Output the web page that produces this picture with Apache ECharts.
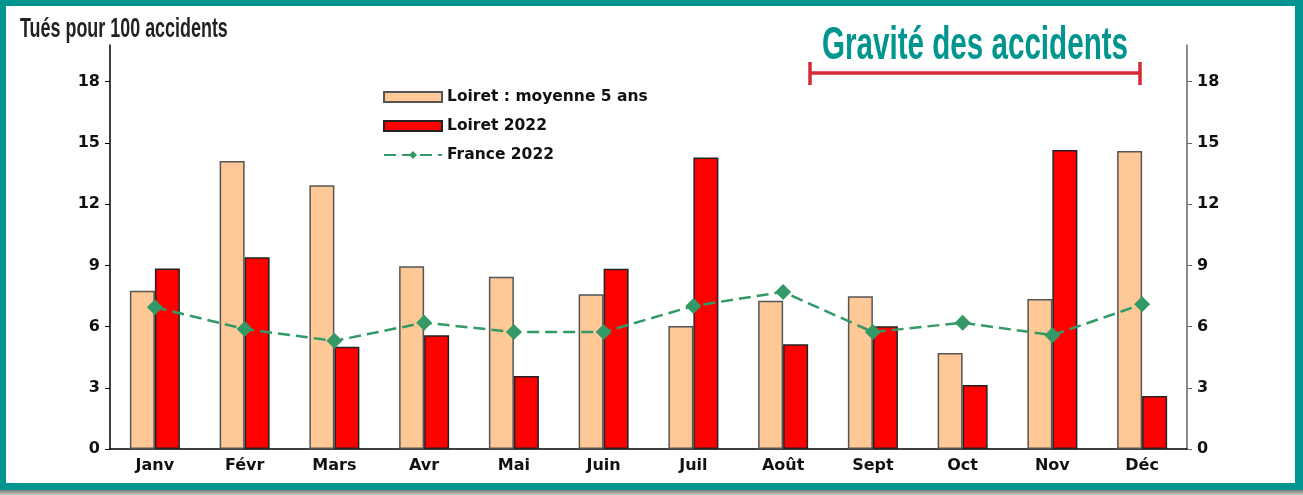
<!DOCTYPE html>
<html>
<head>
<meta charset="utf-8">
<title>Gravité des accidents</title>
<script src="https://cdn.jsdelivr.net/npm/echarts@6/dist/echarts.min.js"></script>
<style>
  body { margin: 0; background: #fff; }
  #wrap { position: relative; width: 1303px; height: 495px; overflow: hidden; }
  .frame { position: absolute; left: 0; top: 0; width: 1303px; height: 490px; background: #00968f; }
  .inner { position: absolute; left: 6px; top: 6px; width: 1289px; height: 477px; background: #fff; }
  .shadow { position: absolute; left: 0; top: 490px; width: 1303px; height: 5px; background: linear-gradient(#7a7a7a, #c8c8c8); }
  #chart { position: absolute; left: 0; top: 0; width: 1303px; height: 495px; }
</style>
</head>
<body>
<div id="wrap">
  <div class="frame"></div>
  <div class="inner"></div>
  <div class="shadow"></div>
  <div id="chart"></div>
</div>
<script>
// months and values (tués pour 100 accidents)
const months = ['Janv', 'Févr', 'Mars', 'Avr', 'Mai', 'Juin', 'Juil', 'Août', 'Sept', 'Oct', 'Nov', 'Déc'];
const loiretAvg5 = [7.76, 14.11, 12.93, 8.96, 8.44, 7.58, 6.03, 7.27, 7.49, 4.71, 7.35, 14.60];
const loiret2022 = [8.85, 9.40, 5.01, 5.57, 3.58, 8.83, 14.29, 5.13, 6.01, 3.14, 14.65, 2.60];
const france2022 = [6.95, 5.88, 5.30, 6.19, 5.73, 5.73, 7.01, 7.70, 5.73, 6.19, 5.58, 7.09];
const yTicks = [0, 3, 6, 9, 12, 15, 18];

const font = "'DejaVu Sans', sans-serif";
const headFont = "'Liberation Sans', Arial, sans-serif";

const chart = echarts.init(document.getElementById('chart'));

const yAxisBase = {
  type: 'value',
  min: 0,
  max: 19.8,
  splitLine: { show: false },
  axisTick: { show: true, length: 5, customValues: yTicks },
  axisLabel: {
    customValues: yTicks,
    fontFamily: font,
    fontWeight: 'bold',
    fontSize: 16,
    color: '#111',
    margin: 10
  }
};

chart.setOption({
  animation: false,
  grid: { left: 110, right: 116, top: 45, bottom: 46 },
  legend: {
    orient: 'vertical',
    left: 378,
    top: 84,
    itemWidth: 58,
    itemHeight: 10,
    itemGap: 13,
    textStyle: { fontFamily: font, fontWeight: 'bold', fontSize: 15.5, color: '#111' },
    data: [
      { name: 'Loiret : moyenne 5 ans', icon: 'rect' },
      { name: 'Loiret 2022', icon: 'rect' },
      { name: 'France 2022' }
    ]
  },
  xAxis: {
    type: 'category',
    data: months,
    axisLine: { lineStyle: { color: '#000', width: 1.5 } },
    axisTick: { length: 5, lineStyle: { color: '#000' } },
    axisLabel: {
      fontFamily: font,
      fontWeight: 'bold',
      fontSize: 16,
      color: '#111',
      margin: 9
    }
  },
  yAxis: [
    Object.assign({}, yAxisBase, {
      position: 'left',
      axisLine: { show: true, lineStyle: { color: '#000', width: 1.5 } }
    }),
    Object.assign({}, yAxisBase, {
      position: 'right',
      axisLine: { show: true, lineStyle: { color: '#666', width: 1.5 } },
      axisTick: { show: true, length: 5, customValues: yTicks, lineStyle: { color: '#666' } }
    })
  ],
  series: [
    {
      name: 'Loiret : moyenne 5 ans',
      type: 'bar',
      data: loiretAvg5,
      barWidth: 25,
      barGap: '0%',
      itemStyle: { color: '#fec996', borderColor: '#555', borderWidth: 1.5 }
    },
    {
      name: 'Loiret 2022',
      type: 'bar',
      data: loiret2022,
      barWidth: 25,
      barGap: '0%',
      itemStyle: { color: '#ff0000', borderColor: '#222', borderWidth: 1.5 }
    },
    {
      name: 'France 2022',
      type: 'line',
      data: france2022,
      symbol: 'diamond',
      symbolSize: 16,
      z: 5,
      lineStyle: { color: '#339966', width: 2.5, type: [12, 6] },
      itemStyle: { color: '#339966' }
    }
  ],
  graphic: [
    {
      // condensed look: scale the text horizontally
      type: 'text',
      x: 20,
      y: 29,
      scaleX: 0.64,
      style: {
        text: 'Tués pour 100 accidents',
        font: 'bold 28px ' + headFont,
        fill: '#231f20',
        align: 'left',
        verticalAlign: 'middle'
      }
    },
    {
      type: 'text',
      x: 975,
      y: 46,
      scaleX: 0.63,
      style: {
        text: 'Gravité des accidents',
        font: 'bold 47px ' + headFont,
        fill: '#00968f',
        align: 'center',
        verticalAlign: 'middle'
      }
    },
    {
      type: 'line',
      shape: { x1: 809, y1: 73, x2: 1141, y2: 73 },
      style: { stroke: '#d42a33', lineWidth: 3.5 }
    },
    {
      type: 'line',
      shape: { x1: 810, y1: 62, x2: 810, y2: 85 },
      style: { stroke: '#d42a33', lineWidth: 3.5 }
    },
    {
      type: 'line',
      shape: { x1: 1140, y1: 62, x2: 1140, y2: 85 },
      style: { stroke: '#d42a33', lineWidth: 3.5 }
    }
  ]
});
</script>
</body>
</html>
